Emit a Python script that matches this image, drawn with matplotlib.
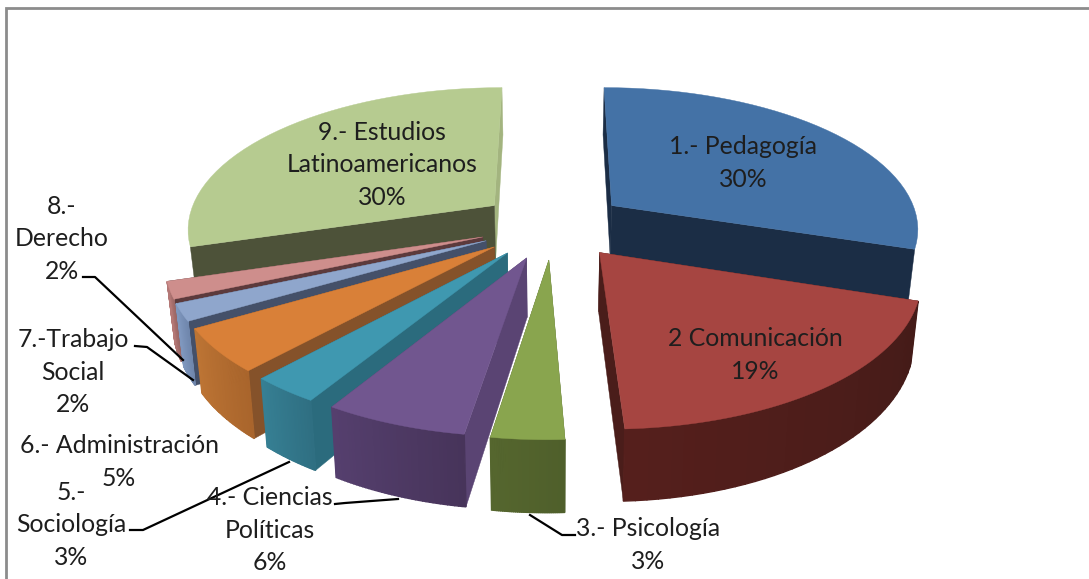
import numpy as np
import matplotlib
matplotlib.use("Agg")
import matplotlib.pyplot as plt
from matplotlib.colors import to_rgb
from matplotlib.patches import Polygon

# datos
etiquetas = [
    "1.- Pedagogía", "2 Comunicación", "3.- Psicología",
    "4.- Ciencias\nPolíticas", "5.-\nSociología", "6.- Administración",
    "7.-Trabajo\nSocial", "8.-\nDerecho", "9.- Estudios\nLatinoamericanos",
]
valores = [30, 19, 3, 6, 3, 5, 2, 2, 30]

color_tapa = ["#4472A6", "#A64541", "#89A54E", "#71568F", "#3F98B0", "#D98038", "#8FA6CC", "#CE8E8C", "#B6CB90"]
color_corte = ["#1B2D45", "#4A1D1A", "#4F5F2B", "#5A4473", "#2B6B7D", "#85522A", "#445069", "#5C3A3C", "#4D5239"]
# el corte final de cada porcion: solo cambia en la 9, que se ve mas clara arriba
color_corte_fin = ["#1B2D45", "#4A1D1A", "#4F5F2B", "#5A4473", "#2B6B7D", "#85522A", "#445069", "#5C3A3C", "#A3B47F"]
color_borde1 = ["#2B4A6E", "#441B18", "#4F5F2B", "#47345A", "#2F6F82", "#A9652C", "#6F86AC", "#9A6664", "#6F7F50"]
color_borde2 = ["#2B4A6E", "#551F1C", "#55662E", "#553F6E", "#367F93", "#BC7434", "#7F97BE", "#B47876", "#7F9060"]

pos_etiquetas = [(743, 163), (755, 355), (648, 545), (270, 530), (71, 525), (119, 462), (73, 372), (62, 239), (382, 165)]

lineas_guia = [
    [(83, 277), (95, 277), (183, 360)],
    [(135, 346), (147, 347), (193, 380)],
    [(130, 530), (143, 530), (289, 462)],
    [(335, 504), (345, 503), (398, 499)],
    [(530, 515), (562, 535), (575, 535)],
]

# parametros de la proyeccion
cx, cy = 553, 225
a, b = 308, 141
p = 0.15
explosion = 0.24
prof = 57
giro = 0.042
corte_x = 0.005


def proyectar(u, v):
    s = 1 / (1 + p * v)
    y = cy - b * v * s
    x = cx + a * u * s - corte_x * np.maximum(0, y - cy)
    return x, y, s


def tapa(u, v):
    x, y, s = proyectar(u, v)
    return np.column_stack([x, y])


def base(u, v):
    x, y, s = proyectar(u, v)
    return np.column_stack([cx + (x - cx) * 0.98, y + prof * s ** 1.2])


def deformar(t):
    # el pastel original no es del todo regular abajo a la izquierda
    return t + giro * np.maximum(0, np.cos(t - np.radians(215))) ** 4


fig = plt.figure(figsize=(10.89, 5.79), dpi=100)
ax = fig.add_axes([0, 0, 1, 1])
ax.set_xlim(0, 1089)
ax.set_ylim(579, 0)
ax.axis("off")

# marco
ax.plot([6, 6, 1089], [579, 8, 8], color="#8C8C8C", lw=2, solid_joinstyle="miter", zorder=1)

total = sum(valores)
acum = np.cumsum([0] + valores) / total * 2 * np.pi
orden = [8, 0, 7, 6, 5, 4, 3, 2, 1]

for n, i in enumerate(orden):
    z = 2 + n
    t0 = np.linspace(acum[i], acum[i + 1], 40)
    t = deformar(t0)
    medio = deformar((acum[i] + acum[i + 1]) / 2)
    ox, oy = explosion * np.sin(medio), explosion * np.cos(medio)
    u = ox + np.sin(t)
    v = oy + np.cos(t)

    # cortes radiales
    for ang, color in ((t[-1], color_corte_fin[i]), (t[0], color_corte[i])):
        ur = np.array([ox, ox + np.sin(ang)])
        vr = np.array([oy, oy + np.cos(ang)])
        arriba = tapa(ur, vr)
        abajo = base(ur, vr)
        ax.add_patch(Polygon(np.vstack([arriba, abajo[::-1]]), fc=color, ec=color, lw=0.3, zorder=z))

    # borde exterior, en tiras para el degradado (solo lo que mira al frente)
    arriba = tapa(u, v)
    abajo = base(u, v)
    c1 = np.array(to_rgb(color_borde1[i]))
    c2 = np.array(to_rgb(color_borde2[i]))
    for k in range(len(t) - 1):
        if np.cos(t0[k]) > -0.3 or np.cos(t0[k + 1]) > -0.3:
            continue
        c = c1 + (c2 - c1) * k / (len(t) - 2)
        tira = [arriba[k], arriba[k + 1], abajo[k + 1], abajo[k]]
        ax.add_patch(Polygon(tira, fc=c, ec=c, lw=1.0, zorder=z))

    # tapa
    contorno = tapa(np.concatenate([[ox], u]), np.concatenate([[oy], v]))
    ax.add_patch(Polygon(contorno, fc=color_tapa[i], ec=color_tapa[i], lw=0.3, zorder=z))

for linea in lineas_guia:
    xs, ys = zip(*linea)
    ax.plot(xs, ys, color="black", lw=1.6, zorder=20)

for etiqueta, valor, (x, y) in zip(etiquetas, valores, pos_etiquetas):
    ax.text(x, y, etiqueta + "\n" + str(valor) + "%", ha="center", va="center", family="Lato",
            fontsize=17.8, color="#1E1E1E", linespacing=1.5, zorder=30)

fig.savefig("out.png", dpi=100)
